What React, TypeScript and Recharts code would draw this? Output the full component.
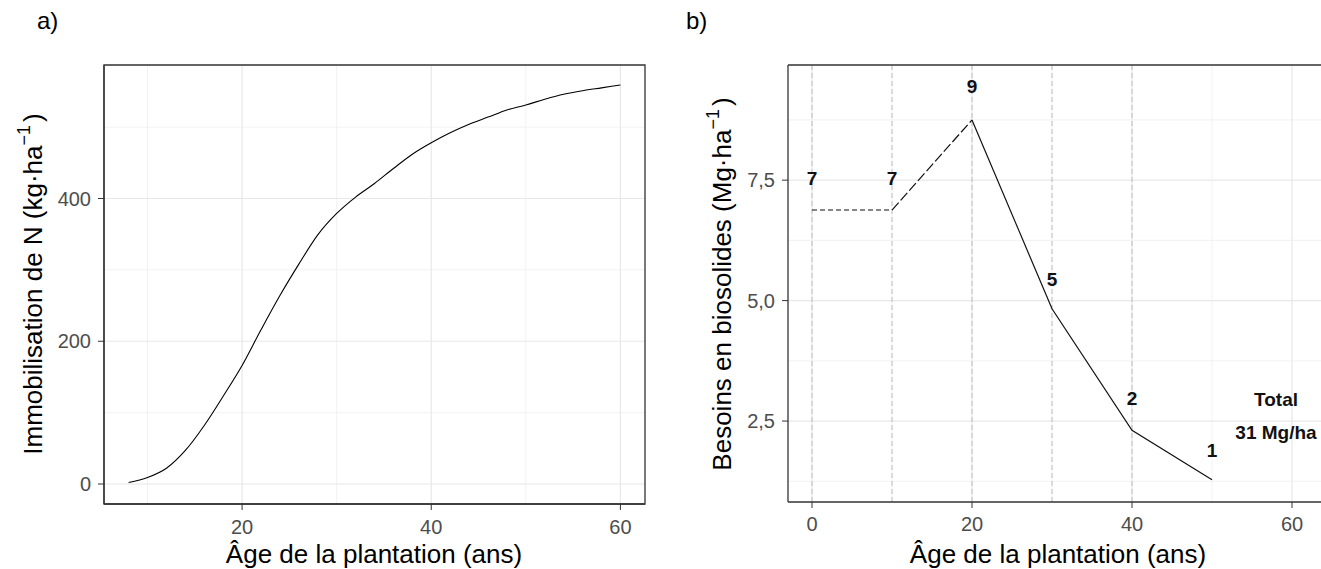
import React from 'react';
import {
  ComposedChart, Line, Scatter, XAxis, YAxis, CartesianGrid, ReferenceArea, ReferenceLine,
} from 'recharts';

// ---------- Panel a data ----------
const aAge = [8, 10, 12, 14, 16, 18, 20, 22, 24, 26, 28, 30, 32, 34, 36, 38, 40, 42, 44, 46, 48, 50, 52, 54, 56, 58, 60];
const aImmob = [2, 9, 22, 47, 82, 123, 166, 216, 264, 308, 349, 379, 402, 421, 442, 462, 478, 492, 504, 514, 524, 531, 539, 546, 551, 555, 559];
const aXTicks = [20, 40, 60];
const aXMinor = [10, 30, 50];
const aYTicks = [0, 200, 400];
const aYMinor = [100, 300, 500];

// ---------- Panel b data ----------
const bAge = [0, 10, 20, 30, 40, 50];
const bNeed = [6.88, 6.88, 8.75, 4.83, 2.31, 1.28];
const bLabels = ['7', '7', '9', '5', '2', '1'];
const bLabelY = [7.55, 7.55, 9.45, 5.44, 2.98, 1.9];
const totalX = [58, 58];
const totalY = [2.96, 2.27];
const totalLabels = ['Total', '31 Mg/ha'];
const bXTicks = [0, 20, 40, 60];
const bXMinor = [10, 30, 50];
const bYTicks = [2.5, 5, 7.5];
const bYMinor = [1.25, 3.75, 6.25, 8.75];
const bVLines = [0, 10, 20, 30, 40];

const FONT = '"Liberation Sans", Arial, Helvetica, sans-serif';

const aData = aAge.map((x, i) => ({ x, y: aImmob[i] }));
const bPts = bAge.map((x, i) => ({ x, y: bNeed[i] }));
const bSeg1 = bPts.slice(0, 2);
const bSeg2 = bPts.slice(1, 3);
const bSeg3 = bPts.slice(2);
const bLab = bAge.map((x, i) => ({ x, y: bLabelY[i], label: bLabels[i] }));
const bTot = totalLabels.map((label, i) => ({ x: totalX[i], y: totalY[i], label }));

const B_X_DOMAIN = [-3, 65];
const B_Y_DOMAIN = [0.82, 9.89];

const tickStyle = { fill: '#4D4D4D', fontSize: 20, fontFamily: FONT };

function YTitle({ px, py, main }: any) {
  return (
    <text
      x={px}
      y={py}
      transform={`rotate(-90 ${px} ${py})`}
      textAnchor="middle"
      fontSize={26}
      fontFamily={FONT}
      fill="#000"
    >
      {main}
      <tspan fontSize={18} dy={-12}>−1</tspan>
      <tspan dy={12} dx={3}>)</tspan>
    </text>
  );
}

function XTitle({ px, py }: any) {
  return (
    <text x={px} y={py} textAnchor="middle" fontSize={26} fontFamily={FONT} fill="#000">
      Âge de la plantation (ans)
    </text>
  );
}

const TextShape = (props: any) => {
  const { cx, cy, payload } = props;
  return (
    <text x={cx} y={cy} dy="0.36em" textAnchor="middle" fontSize={19} fontWeight="bold" fontFamily={FONT} fill="#111">
      {payload.label}
    </text>
  );
};

const fmtComma = (v: number) => v.toFixed(1).replace('.', ',');

export default function App() {
  return (
    <div style={{ position: 'fixed', left: 0, top: 0, width: 1321, height: 569, overflow: 'hidden', background: '#fff' }}>
      <div style={{ position: 'absolute', left: 37, top: 6, fontFamily: FONT, fontSize: 24, lineHeight: '30px' }}>a)</div>
      <div style={{ position: 'absolute', left: 686, top: 6, fontFamily: FONT, fontSize: 24, lineHeight: '30px' }}>b)</div>

      {/* Panel a */}
      <div style={{ position: 'absolute', left: 0, top: 0 }}>
        <ComposedChart width={660} height={569} margin={{ top: 65, right: 15, bottom: 0, left: 0 }}>
          <CartesianGrid stroke="#EFEFEF" strokeWidth={0.8} verticalValues={aXMinor} horizontalValues={aYMinor} />
          <CartesianGrid stroke="#E8E8E8" strokeWidth={1.2} verticalValues={aXTicks} horizontalValues={aYTicks} />
          <XAxis
            type="number"
            dataKey="x"
            domain={[5.4, 62.6]}
            allowDataOverflow
            ticks={aXTicks}
            interval={0}
            height={65}
            tick={tickStyle}
            tickSize={6}
            tickMargin={10}
            tickLine={{ stroke: '#333' }}
            axisLine={{ stroke: '#333', strokeWidth: 1.3 }}
            label={<XTitle px={374} py={563} />}
          />
          <YAxis
            type="number"
            dataKey="y"
            domain={[-28, 587]}
            allowDataOverflow
            ticks={aYTicks}
            interval={0}
            width={104}
            tick={tickStyle}
            tickSize={6}
            tickMargin={7}
            tickLine={{ stroke: '#333' }}
            axisLine={{ stroke: '#333', strokeWidth: 1.3 }}
            label={<YTitle px={42} py={284} main="Immobilisation de N (kg·ha" />}
          />
          <ReferenceArea x1={5.4} x2={62.6} y1={-28} y2={587} fill="none" stroke="#333" strokeWidth={1.3} fillOpacity={0} />
          <Line data={aData} dataKey="y" type="monotone" stroke="#000" strokeWidth={1.1} dot={false} isAnimationActive={false} />
        </ComposedChart>
      </div>

      {/* Panel b */}
      <div style={{ position: 'absolute', left: 660, top: 0 }}>
        <ComposedChart width={700} height={569} margin={{ top: 65, right: 28, bottom: 0, left: 0 }}>
          <CartesianGrid stroke="#EFEFEF" strokeWidth={0.8} verticalValues={bXMinor} horizontalValues={bYMinor} />
          <CartesianGrid stroke="#E8E8E8" strokeWidth={1.2} verticalValues={bXTicks} horizontalValues={bYTicks} />
          <CartesianGrid stroke="#BDBDBD" strokeWidth={1} strokeDasharray="5 3" horizontal={false} verticalValues={bVLines} />
          <XAxis
            type="number"
            dataKey="x"
            domain={B_X_DOMAIN}
            allowDataOverflow
            ticks={bXTicks}
            interval={0}
            height={67}
            tick={tickStyle}
            tickSize={6}
            tickMargin={9}
            tickLine={{ stroke: '#333' }}
            axisLine={{ stroke: '#333', strokeWidth: 1.3 }}
            label={<XTitle px={398} py={563} />}
          />
          <YAxis
            type="number"
            dataKey="y"
            domain={B_Y_DOMAIN}
            allowDataOverflow
            ticks={bYTicks}
            interval={0}
            width={128}
            tick={tickStyle}
            tickFormatter={fmtComma}
            tickSize={6}
            tickMargin={7}
            tickLine={{ stroke: '#333' }}
            axisLine={{ stroke: '#333', strokeWidth: 1.3 }}
            label={<YTitle px={71} py={284} main="Besoins en biosolides (Mg·ha" />}
          />
          <ReferenceLine y={B_Y_DOMAIN[1]} stroke="#333" strokeWidth={1.3} />
          <Line data={bSeg1} dataKey="y" type="linear" stroke="#111" strokeWidth={1.2} strokeDasharray="5 3" dot={false} isAnimationActive={false} />
          <Line data={bSeg2} dataKey="y" type="linear" stroke="#111" strokeWidth={1.2} strokeDasharray="10 3" dot={false} isAnimationActive={false} />
          <Line data={bSeg3} dataKey="y" type="linear" stroke="#111" strokeWidth={1.2} dot={false} isAnimationActive={false} />
          <Scatter data={bLab} dataKey="y" shape={TextShape} isAnimationActive={false} />
          <Scatter data={bTot} dataKey="y" shape={TextShape} isAnimationActive={false} />
        </ComposedChart>
      </div>
    </div>
  );
}
